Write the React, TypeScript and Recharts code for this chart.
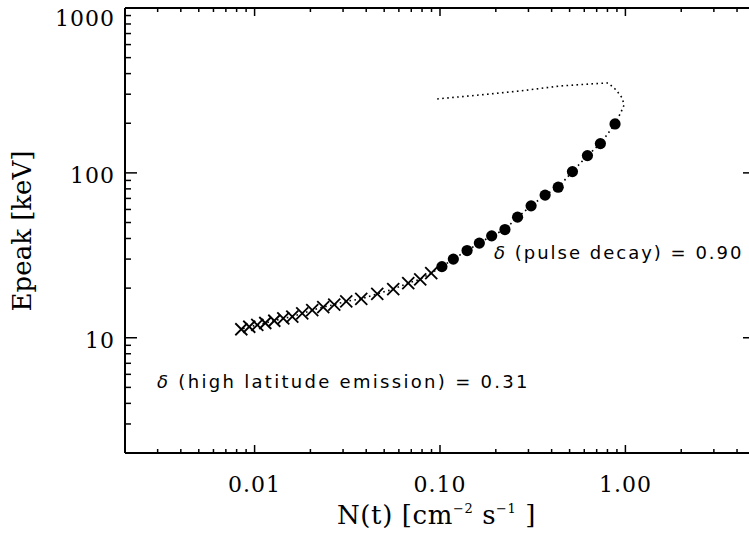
import React from "react";
import { ScatterChart, Scatter, XAxis, YAxis } from "recharts";

// High-latitude emission phase (crosses)
const crossFlux = [
  0.00848, 0.00936, 0.01034, 0.01142, 0.01277, 0.01428, 0.01597, 0.01807, 0.02046,
  0.02346, 0.02689, 0.03121, 0.0376, 0.04587, 0.05594, 0.0674, 0.07822, 0.08968,
];
const crossEpeak = [
  11.26, 11.66, 11.96, 12.29, 12.68, 13.11, 13.44, 14.04, 14.72, 15.35, 15.9, 16.62,
  17.23, 18.48, 19.73, 21.46, 22.62, 24.66,
];

// Pulse decay phase (filled circles)
const decayFlux = [
  0.1024, 0.118, 0.14, 0.163, 0.19, 0.224, 0.262, 0.31, 0.369, 0.434, 0.518, 0.624,
  0.733, 0.879,
];
const decayEpeak = [
  27.0, 30.0, 33.8, 37.5, 41.5, 45.3, 53.9, 63.1, 73.3, 81.9, 101.8, 127.3, 150.5, 198.0,
];

// Rising part of the model track (dotted only)
const riseFlux = [0.0966, 0.1647, 0.2706, 0.4446, 0.6452, 0.8067, 0.891, 0.9598, 0.984, 0.948];
const riseEpeak = [280.9, 297, 314, 336.6, 346.2, 351.1, 318.4, 284.8, 258.2, 234.3];

const xTicks = [
  0.002, 0.003, 0.004, 0.005, 0.006, 0.007, 0.008, 0.009,
  0.01, 0.02, 0.03, 0.04, 0.05, 0.06, 0.07, 0.08, 0.09,
  0.1, 0.2, 0.3, 0.4, 0.5, 0.6, 0.7, 0.8, 0.9,
  1, 2, 3, 4, 5,
];
const yTicks = [
  2, 3, 4, 5, 6, 7, 8, 9,
  10, 20, 30, 40, 50, 60, 70, 80, 90,
  100, 200, 300, 400, 500, 600, 700, 800, 900,
  1000,
];
const xMajor = [0.01, 0.1, 1];
const xMajorLabels = ["0.01", "0.10", "1.00"];
const yMajor = [10, 100, 1000];
const yMajorLabels = ["10", "100", "1000"];

const crosses = crossFlux.map((x, i) => ({ x, y: crossEpeak[i] }));
const decay = decayFlux.map((x, i) => ({ x, y: decayEpeak[i] }));
const rise = riseFlux.map((x, i) => ({ x, y: riseEpeak[i] }));
const track = [...rise, ...[...decay].reverse(), ...[...crosses].reverse()];

const TICK_FONT = "DejaVu Serif";

const isMajor = (v: number) => {
  const l = Math.log10(v);
  return Math.abs(l - Math.round(l)) < 1e-6;
};

const labelFor = (v: number, values: number[], labels: string[]) => {
  const i = values.findIndex((m) => Math.abs(m - v) < 1e-9);
  return i >= 0 ? labels[i] : null;
};

const makeTick = (side: "bottom" | "top" | "left" | "right") => (props: any) => {
  const { x, y, payload } = props;
  const v = payload.value as number;
  const major = isMajor(v);
  if (side === "bottom" || side === "top") {
    const len = major ? 8 : 4;
    const dir = side === "bottom" ? -1 : 1;
    const label = side === "bottom" ? labelFor(v, xMajor, xMajorLabels) : null;
    return (
      <g>
        <line x1={x} y1={y} x2={x} y2={y + dir * len} stroke="#000" strokeWidth={1.5} />
        {label && (
          <text
            x={x}
            y={y + 39}
            textAnchor="middle"
            fontFamily={TICK_FONT}
            fontSize={22}
            letterSpacing={1}
            fill="#000"
          >
            {label}
          </text>
        )}
      </g>
    );
  }
  const len = major ? 12 : 6;
  const dir = side === "left" ? 1 : -1;
  const label = side === "left" ? labelFor(v, yMajor, yMajorLabels) : null;
  return (
    <g>
      <line x1={x} y1={y} x2={x + dir * len} y2={y} stroke="#000" strokeWidth={1.5} />
      {label && (
        <text
          x={x - 10}
          y={Math.max(y + 3, 18)}
          textAnchor="end"
          dominantBaseline="central"
          fontFamily={TICK_FONT}
          fontSize={22}
          letterSpacing={1}
          fill="#000"
        >
          {label}
        </text>
      )}
    </g>
  );
};

const Cross = (props: any) => {
  const { cx, cy } = props;
  const s = 6;
  return (
    <g>
      <line x1={cx - s} y1={cy - s} x2={cx + s} y2={cy + s} stroke="#000" strokeWidth={1.8} />
      <line x1={cx - s} y1={cy + s} x2={cx + s} y2={cy - s} stroke="#000" strokeWidth={1.8} />
    </g>
  );
};

const Dot = (props: any) => <circle cx={props.cx} cy={props.cy} r={5.6} fill="#000" />;

const Nothing = () => <g />;

const axisLine = { stroke: "#000", strokeWidth: 2 };

export default function App() {
  return (
    <div
      style={{
        position: "absolute",
        left: 0,
        top: 0,
        width: 749,
        height: 533,
        overflow: "hidden",
        background: "#fff",
      }}
    >
      <ScatterChart width={760} height={533} margin={{ top: 7, right: 4, left: 0, bottom: 0 }}>
        <XAxis
          xAxisId="b"
          dataKey="x"
          type="number"
          scale="log"
          domain={[0.002, 5]}
          allowDataOverflow
          ticks={xTicks}
          interval={0}
          orientation="bottom"
          height={80}
          tickSize={0}
          tickMargin={0}
          tickLine={false}
          axisLine={axisLine}
          tick={makeTick("bottom")}
        />
        <XAxis
          xAxisId="t"
          dataKey="x"
          type="number"
          scale="log"
          domain={[0.002, 5]}
          allowDataOverflow
          ticks={xTicks}
          interval={0}
          orientation="top"
          height={1}
          tickSize={0}
          tickMargin={0}
          tickLine={false}
          axisLine={axisLine}
          tick={makeTick("top")}
        />
        <YAxis
          yAxisId="l"
          dataKey="y"
          type="number"
          scale="log"
          domain={[2, 1000]}
          allowDataOverflow
          ticks={yTicks}
          interval={0}
          orientation="left"
          width={125}
          tickSize={0}
          tickMargin={0}
          tickLine={false}
          axisLine={axisLine}
          tick={makeTick("left")}
        />
        <YAxis
          yAxisId="r"
          dataKey="y"
          type="number"
          scale="log"
          domain={[2, 1000]}
          allowDataOverflow
          ticks={yTicks}
          interval={0}
          orientation="right"
          width={1}
          tickSize={0}
          tickMargin={0}
          tickLine={false}
          axisLine={axisLine}
          tick={makeTick("right")}
        />
        <Scatter
          xAxisId="t"
          yAxisId="r"
          data={track}
          shape={Nothing}
          isAnimationActive={false}
        />
        <Scatter
          xAxisId="b"
          yAxisId="l"
          data={track}
          shape={Nothing}
          line={{ stroke: "#000", strokeWidth: 1.6, strokeDasharray: "1.6 3.4" }}
          isAnimationActive={false}
        />
        <Scatter xAxisId="b" yAxisId="l" data={crosses} shape={Cross} isAnimationActive={false} />
        <Scatter xAxisId="b" yAxisId="l" data={decay} shape={Dot} isAnimationActive={false} />
      </ScatterChart>
      <svg
        width={749}
        height={533}
        style={{ position: "absolute", left: 0, top: 0, pointerEvents: "none" }}
      >
        <text
          transform="translate(31,231) rotate(-90)"
          textAnchor="middle"
          fontFamily={TICK_FONT}
          fontSize={26}
          fill="#000"
        >
          Epeak [keV]
        </text>
        <text
          x={337}
          y={524}
          fontFamily={TICK_FONT}
          fontSize={26}
          letterSpacing={0.6}
          fill="#000"
        >
          N(t) [cm
          <tspan dy={-11} fontSize={13}>−2</tspan>
          <tspan dy={11}> s</tspan>
          <tspan dy={-11} fontSize={13}>−1</tspan>
          <tspan dy={11}> ]</tspan>
        </text>
        <text
          x={157}
          y={388}
          fontFamily="DejaVu Sans"
          fontSize={18}
          letterSpacing={2.3}
          fill="#000"
        >
          <tspan fontStyle="italic">δ</tspan> (high latitude emission) = 0.31
        </text>
        <text
          x={494}
          y={259}
          fontFamily="DejaVu Sans"
          fontSize={18}
          letterSpacing={2}
          fill="#000"
        >
          <tspan fontStyle="italic">δ</tspan> (pulse decay) = 0.90
        </text>
      </svg>
    </div>
  );
}
